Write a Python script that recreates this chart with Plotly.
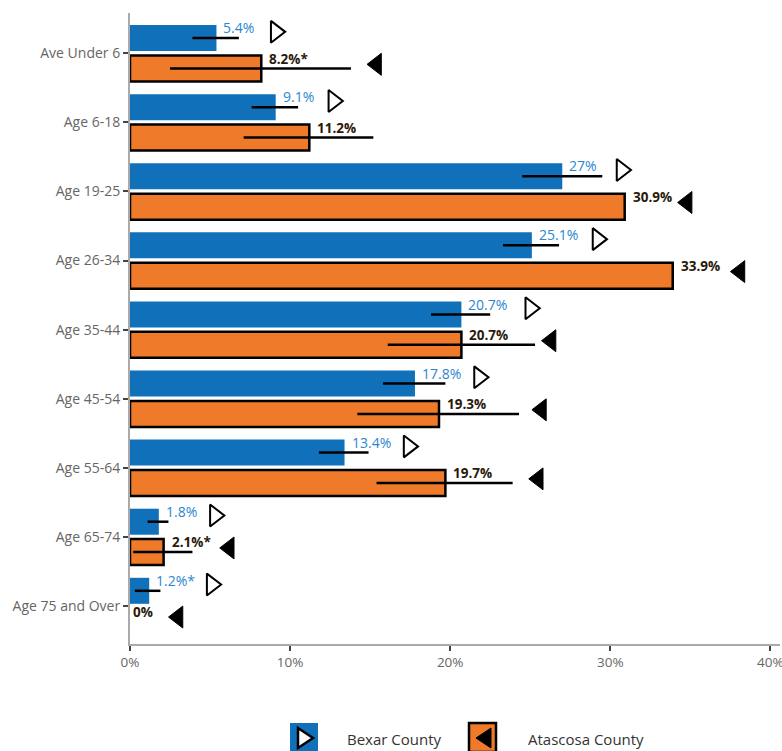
import plotly.graph_objects as go

categories = ["Ave Under 6", "Age 6-18", "Age 19-25", "Age 26-34", "Age 35-44",
              "Age 45-54", "Age 55-64", "Age 65-74", "Age 75 and Over"]
bexar = [5.4, 9.1, 27.0, 25.1, 20.7, 17.8, 13.4, 1.8, 1.2]
bexar_lo = [3.9, 7.6, 24.5, 23.3, 18.8, 15.8, 11.8, 1.1, 0.3]
bexar_hi = [6.8, 10.5, 29.5, 26.8, 22.5, 19.7, 14.9, 2.4, 1.9]
bexar_labels = ["5.4%", "9.1%", "27%", "25.1%", "20.7%", "17.8%", "13.4%", "1.8%", "1.2%*"]
bexar_marker = [9.1, 12.7, 30.7, 29.2, 25.0, 21.8, 17.4, 5.3, 5.1]

atascosa = [8.2, 11.2, 30.9, 33.9, 20.7, 19.3, 19.7, 2.1, 0.0]
atascosa_lo = [2.5, 7.1, None, None, 16.1, 14.2, 15.4, 0.2, None]
atascosa_hi = [13.8, 15.2, None, None, 25.3, 24.3, 23.9, 3.9, None]
atascosa_labels = ["8.2%*", "11.2%", "30.9%", "33.9%", "20.7%", "19.3%", "19.7%", "2.1%*", "0%"]
atascosa_marker = [15.4, None, 34.8, 38.1, 26.3, 25.7, 25.5, 6.2, 3.0]

x_ticks = [0, 10, 20, 30, 40]
x_ticktext = ["0%", "10%", "20%", "30%", "40%"]

BLUE = "#1170ba"
ORANGE = "#ee7a2a"
BLUE_TXT = "#2b86d0"
FONT = "Open Sans"

idx = list(range(len(categories)))


def plus(hi, v):
    return [None if h is None else h - x for h, x in zip(hi, v)]


def minus(lo, v):
    return [None if l is None else x - l for l, x in zip(lo, v)]


fig = go.Figure()
fig.add_trace(go.Bar(
    y=idx, x=bexar, orientation="h", name="Bexar County",
    marker=dict(color=BLUE, line=dict(width=0)),
    error_x=dict(type="data", symmetric=False, array=plus(bexar_hi, bexar),
                 arrayminus=minus(bexar_lo, bexar), color="black", thickness=2.5, width=0),
    showlegend=False, hoverinfo="skip",
))
fig.add_trace(go.Bar(
    y=idx, x=[v if v > 0 else None for v in atascosa], orientation="h", name="Atascosa County",
    marker=dict(color=ORANGE, line=dict(width=2.5, color="black")),
    error_x=dict(type="data", symmetric=False, array=plus(atascosa_hi, atascosa),
                 arrayminus=minus(atascosa_lo, atascosa), color="black", thickness=2.5, width=0),
    showlegend=False, hoverinfo="skip",
))

fig.add_trace(go.Scatter(
    x=bexar_marker, y=[i - 0.31 for i in idx], mode="markers",
    marker=dict(symbol="triangle-right", size=19, color="white",
                line=dict(color="black", width=2)),
    showlegend=False, hoverinfo="skip",
))
fig.add_trace(go.Scatter(
    x=atascosa_marker, y=[i + 0.16 for i in idx], mode="markers",
    marker=dict(symbol="triangle-left", size=19, color="black",
                line=dict(color="black", width=1)),
    showlegend=False, hoverinfo="skip",
))

annotations = []
for i in idx:
    annotations.append(dict(x=bexar[i], y=i - 0.37, xref="x", yref="y",
                            text=bexar_labels[i], showarrow=False, xanchor="left",
                            yanchor="middle", xshift=5,
                            font=dict(family=FONT, size=14, color=BLUE_TXT)))
    annotations.append(dict(x=atascosa[i], y=i + 0.08, xref="x", yref="y",
                            text="<b>" + atascosa_labels[i] + "</b>", showarrow=False,
                            xanchor="left", yanchor="middle", xshift=6 if atascosa[i] > 0 else 1,
                            font=dict(family=FONT, size=13.5, color="#2a1a0a")))

# legend (drawn manually to mimic the icon style)
L, T, W, H = 130, 13, 650, 631


def px(x):
    return (x - L) / W


def py(y):
    return (T + H - y) / H


shapes = [
    dict(type="rect", xref="paper", yref="paper", x0=px(290), x1=px(318), y0=py(752), y1=py(723),
         fillcolor=BLUE, line=dict(width=0), layer="above"),
    dict(type="path", xref="paper", yref="paper",
         path=f"M {px(298)} {py(728)} L {px(313)} {py(738)} L {px(298)} {py(748)} Z",
         fillcolor="white", line=dict(color="black", width=2.5), layer="above"),
    dict(type="rect", xref="paper", yref="paper", x0=px(469), x1=px(496), y0=py(752), y1=py(723),
         fillcolor=ORANGE, line=dict(color="black", width=2.5), layer="above"),
    dict(type="path", xref="paper", yref="paper",
         path=f"M {px(491)} {py(728)} L {px(476)} {py(738)} L {px(491)} {py(748)} Z",
         fillcolor="black", line=dict(color="black", width=1), layer="above"),
]
annotations.append(dict(x=px(345), y=py(739), xref="paper", yref="paper", text="Bexar County",
                        showarrow=False, xanchor="left", yanchor="middle",
                        font=dict(family=FONT, size=15, color="#333333")))
annotations.append(dict(x=px(526), y=py(739), xref="paper", yref="paper", text="Atascosa County",
                        showarrow=False, xanchor="left", yanchor="middle",
                        font=dict(family=FONT, size=15, color="#333333")))

fig.update_layout(
    width=782, height=751,
    margin=dict(l=L, r=782 - L - W, t=T, b=751 - T - H, pad=0),
    paper_bgcolor="white", plot_bgcolor="white",
    barmode="group", bargap=0.12, bargroupgap=0.145,
    annotations=annotations, shapes=shapes,
    font=dict(family=FONT),
    xaxis=dict(range=[0, 40.6], tickvals=x_ticks, ticktext=x_ticktext, showgrid=False,
               zeroline=False, showline=True, linecolor="#aaaaaa", linewidth=2,
               ticks="outside", ticklen=5, tickcolor="#444444", tickwidth=1.5,
               automargin=False, ticklabeloverflow="allow",
               tickfont=dict(family=FONT, size=13.5, color="#666666")),
    yaxis=dict(range=[8.55, -0.583], tickvals=idx, ticktext=categories, showgrid=False,
               zeroline=False, showline=True, linecolor="#aaaaaa", linewidth=2,
               ticks="outside", ticklen=5, tickcolor="#444444", tickwidth=1.5,
               automargin=False,
               tickfont=dict(family=FONT, size=14, color="#666666")),
)

fig.write_html("out.html", config={"displayModeBar": False},
               post_script="document.body.style.margin='0';document.body.style.overflow='hidden';")
